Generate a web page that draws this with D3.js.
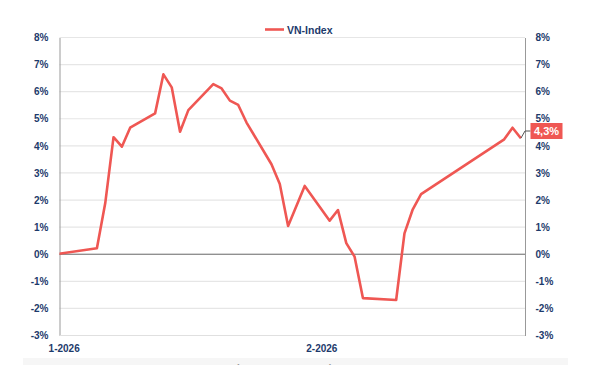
<!DOCTYPE html>
<html>
<head>
<meta charset="utf-8">
<script src="https://cdn.jsdelivr.net/npm/d3@7"></script>
<style>
  body { margin: 0; background: #fff; }
  text { font-family: "Liberation Sans", Arial, sans-serif; font-weight: bold; }
</style>
</head>
<body>
<div id="chart"></div>
<script>
var w = 596,
    h = 365;

var dates = ["2025-12-31", "2026-01-05", "2026-01-06", "2026-01-07", "2026-01-08", "2026-01-09",
             "2026-01-12", "2026-01-13", "2026-01-14", "2026-01-15", "2026-01-16",
             "2026-01-19", "2026-01-20", "2026-01-21", "2026-01-22", "2026-01-23",
             "2026-01-26", "2026-01-27", "2026-01-28", "2026-01-30",
             "2026-02-02", "2026-02-03", "2026-02-04", "2026-02-05", "2026-02-06",
             "2026-02-10", "2026-02-11", "2026-02-12", "2026-02-13",
             "2026-02-23", "2026-02-24", "2026-02-25"];
var vnIndex = [0, 0.22, 1.88, 4.32, 3.97, 4.67,
               5.20, 6.64, 6.16, 4.52, 5.32,
               6.28, 6.12, 5.67, 5.51, 4.86,
               3.32, 2.59, 1.04, 2.52,
               1.24, 1.63, 0.41, -0.09, -1.62,
               -1.69, 0.77, 1.66, 2.22,
               4.24, 4.67, 4.28];
var yTicks = [-3, -2, -1, 0, 1, 2, 3, 4, 5, 6, 7, 8];
var xTicks = ["2026-01-01", "2026-02-01"];
var xTickLabels = ["1-2026", "2-2026"];
var seriesName = "VN-Index";
var lastLabel = "4,3%";

var navy = "#1d3a6b",
    red = "#ef5753";

var parse = d3.timeParse("%Y-%m-%d");
var data = dates.map(function(d, i) {
  return { date: parse(d), value: vnIndex[i] };
});

var pLeft = 59.5, pRight = 525, pTop = 37.5, pBottom = 335.5;

var x = d3.scaleTime()
  .domain([new Date(2025, 11, 31, 12), new Date(2026, 1, 25, 12)])
  .range([pLeft, pRight]);

var y = d3.scaleLinear()
  .domain([-3, 8])
  .range([pBottom, pTop]);

var svg = d3.select("#chart").append("svg")
  .attr("width", w)
  .attr("height", h);

// bottom band
svg.append("rect")
  .attr("x", 23).attr("y", 358)
  .attr("width", 545).attr("height", 7)
  .attr("fill", "#f6f6f6");
svg.append("text").attr("x", 236).attr("y", 372).attr("font-size", "10px").attr("fill", "#999").text("(");
svg.append("text").attr("x", 329).attr("y", 372).attr("font-size", "10px").attr("fill", "#999").text(")");

// gridlines
svg.selectAll("line.grid")
  .data(yTicks.filter(function(d) { return d !== 0 && d !== -3; }))
  .enter().append("line")
  .attr("class", "grid")
  .attr("x1", pLeft).attr("x2", pRight)
  .attr("y1", function(d) { return y(d); })
  .attr("y2", function(d) { return y(d); })
  .attr("stroke", "#e6e6e6")
  .attr("stroke-width", 1.2);

// left / right axes
var axisL = svg.append("g")
  .attr("transform", "translate(" + pLeft + ",0)")
  .call(d3.axisLeft(y).tickValues(yTicks).tickSize(0).tickPadding(11)
    .tickFormat(function(d) { return d + "%"; }));
var axisR = svg.append("g")
  .attr("transform", "translate(" + pRight + ",0)")
  .call(d3.axisRight(y).tickValues(yTicks).tickSize(0).tickPadding(10.5)
    .tickFormat(function(d) { return d + "%"; }));

[axisL, axisR].forEach(function(g) {
  g.select(".domain").attr("stroke", "#999").attr("stroke-width", 1);
  g.selectAll("text")
    .attr("font-size", "10px")
    .attr("font-family", "Liberation Sans, Arial, sans-serif")
    .attr("font-weight", "bold")
    .attr("fill", navy);
});

// bottom axis line
svg.append("line")
  .attr("x1", pLeft).attr("x2", pRight)
  .attr("y1", pBottom).attr("y2", pBottom)
  .attr("stroke", "#e0e0e0");

// x axis labels
var axisB = svg.append("g")
  .attr("transform", "translate(0," + pBottom + ")")
  .call(d3.axisBottom(x).tickValues(xTicks.map(parse)).tickSize(0).tickPadding(9)
    .tickFormat(function(d, i) { return xTickLabels[i]; }));
axisB.select(".domain").remove();
axisB.selectAll("text")
  .attr("font-size", "10px")
  .attr("font-family", "Liberation Sans, Arial, sans-serif")
  .attr("font-weight", "bold")
  .attr("fill", navy);

// zero line
svg.append("line")
  .attr("x1", pLeft).attr("x2", pRight)
  .attr("y1", y(0)).attr("y2", y(0))
  .attr("stroke", "#666")
  .attr("stroke-width", 1);

svg.append("clipPath").attr("id", "plot")
  .append("rect")
  .attr("x", pLeft).attr("y", 0)
  .attr("width", pRight - pLeft).attr("height", h);

var line = d3.line()
  .x(function(d) { return x(d.date); })
  .y(function(d) { return y(d.value); });

svg.append("path")
  .datum(data)
  .attr("clip-path", "url(#plot)")
  .attr("d", line)
  .attr("fill", "none")
  .attr("stroke", red)
  .attr("stroke-width", 2.6)
  .attr("stroke-linejoin", "round");

// last value label
var last = data[data.length - 1];
var labelY = 131;
svg.append("polyline")
  .attr("points", [[x(last.date), y(last.value)], [pRight, labelY], [pRight + 5.5, labelY]].join(" "))
  .attr("fill", "none")
  .attr("stroke", "#555")
  .attr("stroke-width", 1);
svg.append("rect")
  .attr("x", pRight + 5.5).attr("y", labelY - 8)
  .attr("width", 32).attr("height", 16)
  .attr("fill", red);
svg.append("text")
  .attr("x", pRight + 21.5).attr("y", labelY + 4)
  .attr("text-anchor", "middle")
  .attr("font-size", "11px")
  .attr("fill", "#fff")
  .text(lastLabel);

// legend
svg.append("line")
  .attr("x1", 265).attr("x2", 284)
  .attr("y1", 29.5).attr("y2", 29.5)
  .attr("stroke", red)
  .attr("stroke-width", 2.6);
svg.append("text")
  .attr("x", 287).attr("y", 33.5)
  .attr("font-size", "10.5px")
  .attr("fill", navy)
  .text(seriesName);
</script>
</body>
</html>
